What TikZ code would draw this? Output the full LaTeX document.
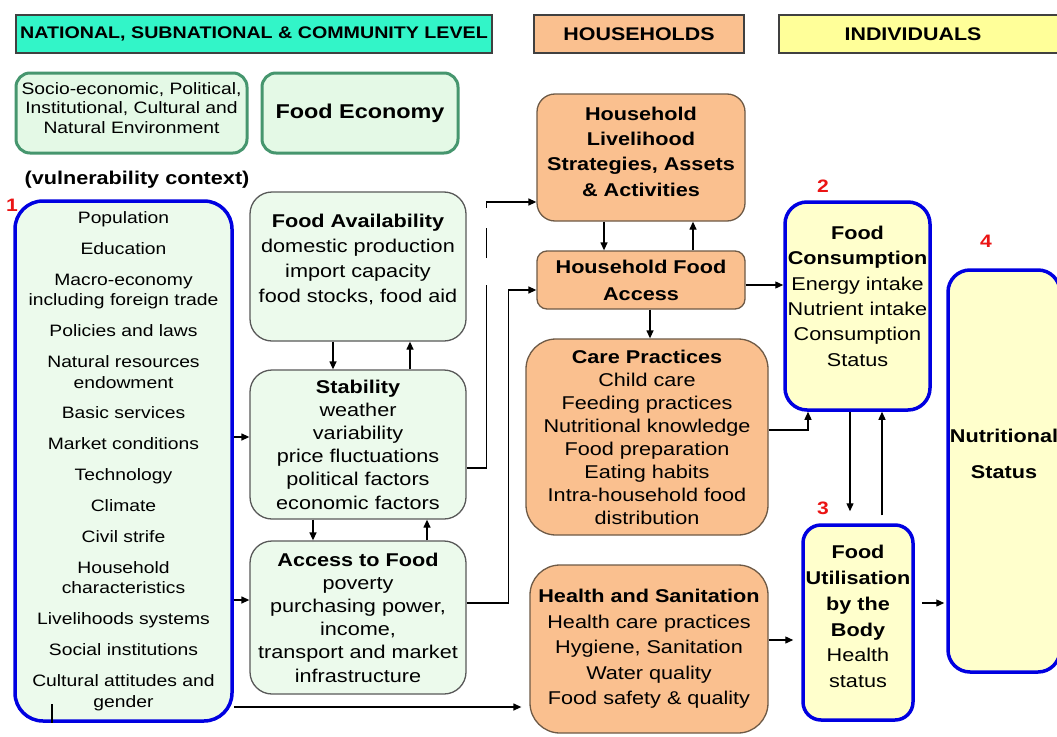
\documentclass[tikz,border=0pt]{standalone}
\usepackage{fontspec}
\setmainfont{Liberation Sans}[FakeStretch=1.17]
\usetikzlibrary{arrows.meta}
\definecolor{tealhdr}{RGB}{50,245,200}
\definecolor{peach}{RGB}{250,192,143}
\definecolor{peachedge}{RGB}{110,90,70}
\definecolor{yelhdr}{RGB}{255,255,153}
\definecolor{yelfill}{RGB}{255,255,204}
\definecolor{grfill}{RGB}{236,250,236}
\definecolor{grtop}{RGB}{228,249,230}
\definecolor{gredge}{RGB}{70,150,110}
\definecolor{bluedge}{RGB}{0,0,225}
\definecolor{rednum}{RGB}{235,20,20}
\newcommand\fsz[2]{\fontsize{#1}{#2}\selectfont}
\begin{document}
\begin{tikzpicture}[x=1pt,y=-1pt,
  hdr/.style={draw=black!75, line width=1.2pt, minimum height=38pt, inner sep=0pt, font=\fsz{16.8}{20}\bfseries},
  gtop/.style={draw=gredge, line width=3pt, fill=grtop, rounded corners=14pt, inner sep=0pt, align=center},
  mbox/.style={draw=black!65, line width=1.3pt, fill=grfill, rounded corners=22pt, inner sep=0pt, align=center},
  pbox/.style={draw=peachedge, line width=1.3pt, fill=peach, rounded corners=18pt, inner sep=0pt, align=center},
  bbox/.style={draw=bluedge, line width=3.5pt, rounded corners=24pt, inner sep=0pt, align=center},
  num/.style={text=rednum, font=\fsz{18}{20}\bfseries, inner sep=0pt},
  arr/.style={line width=1.3pt, -{Triangle[length=8pt,width=7pt]}},
  ln/.style={line width=1.3pt}
]
\useasboundingbox (0,0) rectangle (1057,736);
\clip (0,0) rectangle (1057,736);
\fill[white] (0,0) rectangle (1057,736);

% headers
\node[hdr, fill=tealhdr, minimum width=476pt] (nat) at (254,34) {NATIONAL, SUBNATIONAL \& COMMUNITY LEVEL};
\node[hdr, fill=peach, minimum width=210pt, font=\fsz{18.3}{20}\bfseries] (hh) at (639,34) {HOUSEHOLDS};
\node[hdr, fill=yelhdr, minimum width=291pt, font=\fsz{18.3}{20}\bfseries] (ind) at (924.5,34) {INDIVIDUALS\hspace*{23pt}};

% top green boxes
\node[gtop, minimum width=231pt, minimum height=80pt, font=\fsz{16.5}{19.5}, text depth=10pt] (socio) at (131.5,113)
  {Socio-economic, Political,\\Institutional, Cultural and\\Natural Environment};
\node[gtop, minimum width=196pt, minimum height=80pt, font=\fsz{20}{24}\bfseries] (foodeco) at (360,113) {Food Economy};

\node[inner sep=0pt, font=\fsz{18.5}{22}\bfseries] (vuln) at (137,180) {(vulnerability context)};

% left vulnerability box
\node[bbox, fill=grfill, rounded corners=28pt, minimum width=217pt, minimum height=520pt, font=\fsz{16.5}{20.5}] (left) at (123.5,461)
  {Population\\[10.4pt]
   Education\\[10.4pt]
   Macro-economy\\
   including foreign trade\\[10.4pt]
   Policies and laws\\[10.4pt]
   Natural resources\\
   endowment\\[10.4pt]
   Basic services\\[10.4pt]
   Market conditions\\[10.4pt]
   Technology\\[10.4pt]
   Climate\\[10.4pt]
   Civil strife\\[10.4pt]
   Household\\
   characteristics\\[10.4pt]
   Livelihoods systems\\[10.4pt]
   Social institutions\\[10.4pt]
   Cultural attitudes and\\
   gender};

% middle green boxes
\node[mbox, minimum width=216pt, minimum height=149pt, font=\fsz{18.5}{25}, text depth=16pt] (favail) at (358,266.5)
  {\textbf{Food Availability}\\domestic production\\import capacity\\food stocks, food aid};
\node[mbox, minimum width=216pt, minimum height=149pt, font=\fsz{18.5}{23.2}] (stab) at (358,444.5)
  {\textbf{Stability}\\weather\\variability\\price fluctuations\\political factors\\economic factors};
\node[mbox, minimum width=216pt, minimum height=153pt, font=\fsz{18.5}{23.2}] (access) at (358,617.5)
  {\textbf{Access to Food}\\poverty\\purchasing power,\\income,\\transport and market\\infrastructure};

% household boxes
\node[pbox, minimum width=208pt, minimum height=127pt, font=\fsz{18.5}{25.3}\bfseries, text depth=12pt] (hliv) at (641,157.5)
  {Household\\Livelihood\\Strategies, Assets\\\& Activities};
\node[pbox, rounded corners=10pt, minimum width=208pt, minimum height=58pt, font=\fsz{18.5}{27}\bfseries] (hfa) at (641,280)
  {Household Food\\Access};
\node[pbox, rounded corners=30pt, minimum width=242pt, minimum height=196pt, font=\fsz{18.5}{23}] (care) at (647,437)
  {\textbf{Care Practices}\\Child care\\Feeding practices\\Nutritional knowledge\\Food preparation\\Eating habits\\Intra-household food\\distribution};
\node[pbox, rounded corners=30pt, minimum width=238pt, minimum height=168pt, font=\fsz{18.5}{25.5}] (health) at (649,649)
  {\textbf{Health and Sanitation}\\Health care practices\\Hygiene, Sanitation\\Water quality\\Food safety \& quality};

% individual boxes
\node[bbox, fill=yelfill, rounded corners=22pt, minimum width=145pt, minimum height=208pt, font=\fsz{18.5}{25.4}, text depth=20pt] (fcons) at (857.5,306)
  {\textbf{Food}\\\textbf{Consumption}\\Energy intake\\Nutrient intake\\Consumption\\Status};
\node[bbox, fill=yelfill, rounded corners=18pt, minimum width=110pt, minimum height=195pt, font=\fsz{18.5}{25.8}, text depth=12pt] (futil) at (858,622.5)
  {\textbf{Food}\\\textbf{Utilisation}\\\textbf{by the}\\\textbf{Body}\\Health\\status};
\node[bbox, fill=yelfill, rounded corners=22pt, minimum width=112pt, minimum height=402pt, font=\fsz{18.5}{36}\bfseries, text depth=34pt] (nut) at (1004,471)
  {Nutritional\\Status};

% red numbers
\node[num] (n1) at (12,205) {1};
\node[num] (n2) at (823,186) {2};
\node[num] (n3) at (823,508) {3};
\node[num] (n4) at (986,241) {4};

% connectors
\draw[arr] (left.east |- 0,437) -- (stab.west |- 0,437);
\draw[arr] (left.east |- 0,600) -- (access.west |- 0,600);
\draw[arr, shorten >=8pt] (left.east |- 0,707) -- (health.west |- 0,707);
\draw[ln] (52,704) -- (left.south -| 52,0);

\draw[arr] (favail.south -| 333,0) -- (stab.north -| 333,0);
\draw[arr] (stab.north -| 410,0) -- (favail.south -| 410,0);
\draw[arr] (stab.south -| 313,0) -- (access.north -| 313,0);
\draw[arr] (access.north -| 427,0) -- (stab.south -| 427,0);

\draw[arr, dash pattern=on 203pt off 27pt on 30pt off 20pt on 200pt]
  (stab.east |- 0,468) -- ++(20,0) |- (hliv.west |- 0,202);
\draw[arr] (access.east |- 0,603) -- ++(42,0) |- (hfa.west |- 0,290);

\draw[arr] (hliv.south -| 604,0) -- (hfa.north -| 604,0);
\draw[arr] (hfa.north -| 693,0) -- (hliv.south -| 693,0);
\draw[arr] (hfa.south -| 650,0) -- (care.north -| 650,0);
\draw[arr] (hfa.east |- 0,285) -- (fcons.west |- 0,285);
\draw[arr] (care.east |- 0,430) -| (fcons.south -| 808,0);

\draw[arr, shorten >=12pt] (fcons.south -| 850,0) -- (futil.north -| 850,0);
\draw[arr, shorten <=8pt] (futil.north -| 882,0) -- (fcons.south -| 882,0);
\draw[arr, shorten >=8pt] (health.east |- 0,640) -- (futil.west |- 0,640);
\draw[arr, shorten <=7pt, shorten >=2pt] (futil.east |- 0,603) -- (nut.west |- 0,603);
\end{tikzpicture}
\end{document}
